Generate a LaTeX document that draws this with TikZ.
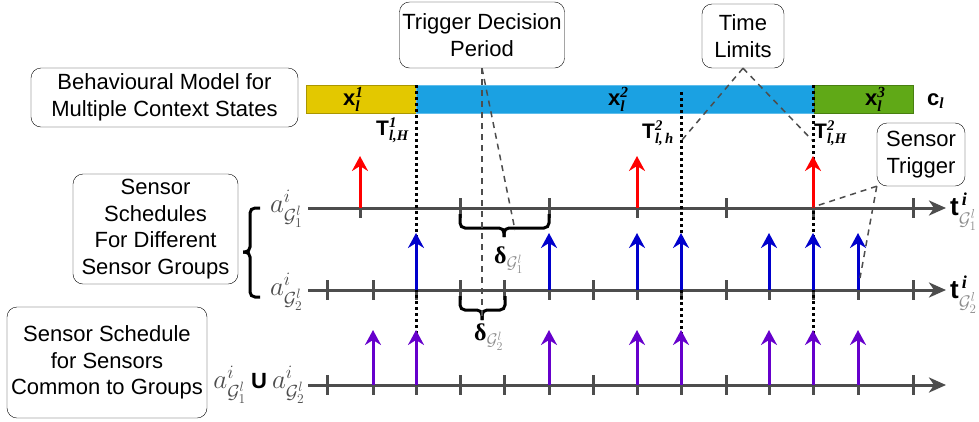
\RequirePackage{fix-cm}
\documentclass[tikz,border=0pt]{standalone}
\usepackage{amsmath,amssymb}
\usepackage{fontspec}
\setmainfont{Liberation Sans}
\newfontfamily\tnr{Liberation Serif}
\usetikzlibrary{arrows.meta}
\definecolor{axisgray}{HTML}{4D4D4D}
\definecolor{ctxA}{HTML}{E3C800}
\definecolor{ctxB}{HTML}{1BA1E2}
\definecolor{ctxC}{HTML}{60A917}
\definecolor{trigred}{HTML}{FF0000}
\definecolor{grpblue}{HTML}{0000CC}
\definecolor{cmnpurple}{HTML}{6600CC}
% bold italic serif for indices
\newcommand{\bix}[1]{\text{\tnr\bfseries\itshape #1}}
\newcommand{\grp}[1]{{\color{black!45}\mathcal{G}_{#1}^{l}}}
\newcommand{\dlt}[1]{{\tnr\bfseries δ}$_{\grp{#1}}$}

\begin{document}
\begin{tikzpicture}[x=1pt, y=-1pt, >=Stealth,
  box/.style={draw, rounded corners=10pt, fill=white, align=center, inner sep=1pt,
    font=\fontsize{22}{26.5}\selectfont},
  axis/.style={axisgray, line width=3pt, -{Stealth[length=17pt,width=15pt,inset=5pt]}},
  tick/.style={axisgray, line width=3pt},
  evt/.style={line width=3pt, -{Stealth[length=15pt,width=16pt,inset=5pt]}},
  limit/.style={line width=3pt, dash pattern=on 3pt off 3pt},
  callout/.style={axisgray, line width=1.5pt, dash pattern=on 6pt off 5pt},
  curly/.style={line width=3pt, rounded corners=5pt},
  bold/.style={font=\bfseries\fontsize{22}{26}\selectfont, inner sep=0pt},
  alabel/.style={text=black!70, font=\fontsize{27}{30}\selectfont, inner sep=0pt}]
  \useasboundingbox (0,0) rectangle (979,421);

  % context states bar
  \filldraw[fill=ctxA, draw=ctxA!75!black, line width=0.8pt] (306,85) rectangle (416,113);
  \filldraw[fill=ctxB, draw=ctxB!70!white, line width=0.8pt] (416,85) rectangle (814,113);
  \filldraw[fill=ctxC, draw=ctxC!75!black, line width=0.8pt] (814,85) rectangle (913,113);
  \node[bold, anchor=base west] (x1) at (343,105) {x$^{\bix{1}}_{\bix{l}}$};
  \node[bold, anchor=base west] (x2) at (608,105) {x$^{\bix{2}}_{\bix{l}}$};
  \node[bold, anchor=base west] (x3) at (865,105) {x$^{\bix{3}}_{\bix{l}}$};
  \node[bold, anchor=base west] (cl) at (927,105) {c$_{\bix{l}}$};

  % time axes
  \draw[axis] (308,208) -- (946,208);
  \draw[axis] (308,290) -- (946,290);
  \draw[axis] (308,385) -- (946,385);
  \foreach \t in {360,460,549,637,726,813,913}
    \draw[tick] (\t,198) -- (\t,218);
  \foreach \t in {327,373,416,460,504,549,593,637,681,726,769,813,858,913} {
    \draw[tick] (\t,280) -- (\t,300);
    \draw[tick] (\t,375) -- (\t,395);
  }

  % horizon limits
  \foreach \x/\top in {416/85, 681/92, 813/85}
    \draw[limit] (\x,\top) -- (\x,385);

  % trigger instants
  \foreach \t in {360,637,813}
    \draw[evt, trigred] (\t,208) -- (\t,156);
  \foreach \t in {416,549,637,681,769,813,858}
    \draw[evt, grpblue] (\t,290) -- (\t,233);
  \foreach \t in {373,416,549,637,681,769,813,858}
    \draw[evt, cmnpurple] (\t,385) -- (\t,330);

  % braces
  \draw[curly] (460,214) -- (460,228) -- (504,228) -- (504,237);
  \draw[curly] (549,214) -- (549,228) -- (504,228) -- (504,237);
  \draw[curly] (460,296) -- (460,310) -- (482,310) -- (482,320);
  \draw[curly] (505,296) -- (505,310) -- (482,310) -- (482,320);
  \draw[curly] (260,208) -- (250,208) -- (250,252) -- (243,252);
  \draw[curly] (260,297) -- (250,297) -- (250,252) -- (243,252);
  \node[alabel, text=black, font=\fontsize{24}{28}\selectfont, anchor=base west] (d1) at (494,263) {\dlt{1}};
  \node[alabel, text=black, font=\fontsize{24}{28}\selectfont, anchor=base west] (d2) at (474,340) {\dlt{2}};

  % horizon labels
  \node[bold, font=\bfseries\fontsize{21}{25}\selectfont, anchor=base west] (T1) at (376,135) {T$^{\bix{1}}_{\bix{l,H}}$};
  \node[bold, font=\bfseries\fontsize{21}{25}\selectfont, anchor=base west] (T2) at (642,138) {T$^{\bix{2}}_{\bix{l,\,h}}$};
  \node[bold, font=\bfseries\fontsize{21}{25}\selectfont, anchor=base west] (T3) at (814,138) {T$^{\bix{2}}_{\bix{l,H}}$};

  % axis names
  \node[alabel, anchor=base east] (a1) at (303,212) {$a^i_{\mathcal{G}_1^l}$};
  \node[alabel, anchor=base east] (a2) at (303,295) {$a^i_{\mathcal{G}_2^l}$};
  \node[alabel, anchor=base east] (a3) at (305,388)
    {$a^i_{\mathcal{G}_1^l}$\hspace{5pt}{\color{black}\bfseries\fontsize{22}{26}\selectfont U}\hspace{5pt}$a^i_{\mathcal{G}_2^l}$};
  \node[bold, font=\bfseries\fontsize{26}{30}\selectfont, anchor=base west] (t1) at (950,215) {t$^{\,\bix{i}}_{\grp{1}}$};
  \node[bold, font=\bfseries\fontsize{26}{30}\selectfont, anchor=base west] (t2) at (950,298) {t$^{\,\bix{i}}_{\grp{2}}$};

  % call-out boxes
  \node[box, minimum width=267pt, minimum height=59pt] (model) at (164.5,97.5)
    {Behavioural Model for\\Multiple Context States};
  \node[box, minimum width=165pt, minimum height=66pt] (decision) at (482,35)
    {Trigger Decision\\Period};
  \node[box, minimum width=82pt, minimum height=64pt] (limits) at (743,36)
    {Time\\Limits};
  \node[box, minimum width=165pt, minimum height=110pt] (groups) at (155.5,229)
    {Sensor\\Schedules\\For Different\\Sensor Groups};
  \node[box, minimum width=200pt, minimum height=111pt] (common) at (107,362.5)
    {Sensor Schedule\\for Sensors\\Common to Groups};
  \node[box, minimum width=88pt, minimum height=63pt] (trig) at (921,154.5)
    {Sensor\\Trigger};

  % call-out pointers
  \coordinate (dlt2tip) at (482,318);
  \coordinate (dlt1end) at (515,230);
  \coordinate (limh) at (682,140);
  \coordinate (limH) at (812,140);
  \coordinate (trgred) at (813,207);
  \coordinate (trgblue) at (860,278);
  \draw[callout] (decision.south) -- (dlt2tip);
  \draw[callout] (decision.south) -- (dlt1end);
  \draw[callout] (limits.south) -- (limh);
  \draw[callout] (limits.south) -- (limH);
  \draw[callout] (trig.south west) -- (trgred);
  \draw[callout] (trig.south west) -- (trgblue);
\end{tikzpicture}
\end{document}
